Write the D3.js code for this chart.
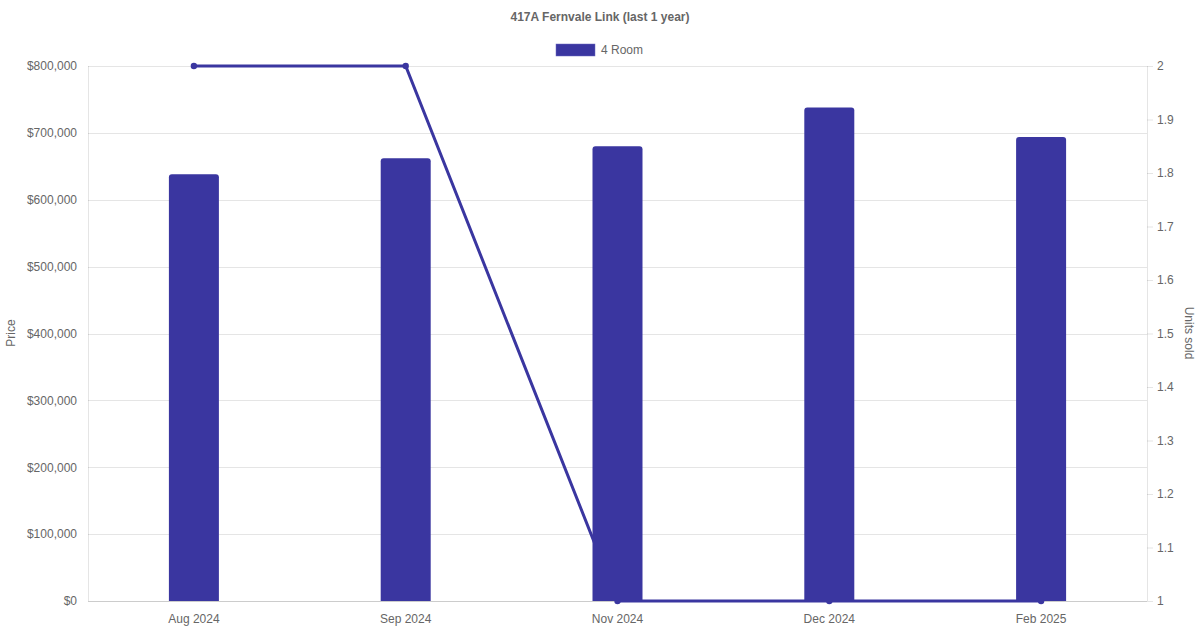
<!DOCTYPE html>
<html>
<head>
<meta charset="utf-8">
<script src="https://cdn.jsdelivr.net/npm/d3@7"></script>
<style>
  html, body { margin: 0; padding: 0; background: #fff; }
  svg { display: block; font-family: "Liberation Sans", Arial, Helvetica, sans-serif; }
</style>
</head>
<body>
<svg id="chart" width="1200" height="630"></svg>
<script>
const categories = ["Aug 2024", "Sep 2024", "Nov 2024", "Dec 2024", "Feb 2025"];
const priceValues = [638000, 662000, 680000, 738000, 694000];
const unitsSold = [2, 2, 1, 1, 1];
const priceTicks = [0, 100000, 200000, 300000, 400000, 500000, 600000, 700000, 800000];
const unitTicks = [1, 1.1, 1.2, 1.3, 1.4, 1.5, 1.6, 1.7, 1.8, 1.9, 2];
const titleText = "417A Fernvale Link (last 1 year)";
const seriesName = "4 Room";

(function () {
const color = "#3a36a0";
const textColor = "#666";
const gridColor = "rgba(0,0,0,0.1)";

const svg = d3.select("#chart");
const pLeft = 88, pRight = 1147, pTop = 66, pBottom = 601;

const x = d3.scaleBand().domain(categories).range([pLeft, pRight]).padding(0);
const yL = d3.scaleLinear().domain([0, 800000]).range([pBottom, pTop]);
const yR = d3.scaleLinear().domain([1, 2]).range([pBottom, pTop]);

// Title
svg.append("text").attr("x", 600).attr("y", 21).attr("text-anchor", "middle")
  .attr("font-size", 12).attr("font-weight", "bold").attr("fill", textColor).text(titleText);

// Legend
svg.append("rect").attr("x", 556).attr("y", 44).attr("width", 39).attr("height", 12)
  .attr("fill", color).attr("stroke", "#6b68c0").attr("stroke-width", 0.5);
svg.append("text").attr("x", 601).attr("y", 54).attr("font-size", 12).attr("fill", textColor).text(seriesName);

// Gridlines (left axis)
svg.append("g").selectAll("line").data(priceTicks).join("line")
  .attr("x1", pLeft).attr("x2", pRight)
  .attr("y1", d => Math.round(yL(d)) + 0.5).attr("y2", d => Math.round(yL(d)) + 0.5)
  .attr("stroke", d => d === 0 ? "rgba(0,0,0,0.2)" : gridColor).attr("stroke-width", 1);

// Axis lines (vertical)
svg.append("line").attr("x1", pLeft + 0.5).attr("x2", pLeft + 0.5).attr("y1", pTop).attr("y2", pBottom)
  .attr("stroke", gridColor);
svg.append("line").attr("x1", pRight + 0.5).attr("x2", pRight + 0.5).attr("y1", pTop).attr("y2", pBottom)
  .attr("stroke", gridColor);

// Left axis
const leftAxis = d3.axisLeft(yL).tickValues(priceTicks).tickSize(0).tickPadding(11)
  .tickFormat(d => "$" + d3.format(",")(d));
const gL = svg.append("g").attr("transform", `translate(${pLeft},0)`).call(leftAxis);
gL.select(".domain").remove();
gL.selectAll("text").attr("font-size", 12).attr("fill", textColor).attr("font-family", "Liberation Sans, Arial, sans-serif");

// Right axis
const rightAxis = d3.axisRight(yR).tickValues(unitTicks).tickSize(6).tickPadding(4)
  .tickFormat(d => d3.format("")(+d.toFixed(1)));
const gR = svg.append("g").attr("transform", `translate(${pRight},0)`).call(rightAxis);
gR.select(".domain").remove();
gR.selectAll("line").attr("stroke", gridColor);
gR.selectAll("text").attr("font-size", 12).attr("fill", textColor).attr("font-family", "Liberation Sans, Arial, sans-serif");

// Bottom axis
const bottomAxis = d3.axisBottom(x).tickSize(0).tickPadding(13);
const gB = svg.append("g").attr("transform", `translate(0,${pBottom})`).call(bottomAxis);
gB.select(".domain").remove();
gB.selectAll("text").attr("font-size", 12).attr("fill", textColor).attr("font-family", "Liberation Sans, Arial, sans-serif");

// Axis titles
svg.append("text").attr("transform", `translate(15,333) rotate(-90)`).attr("text-anchor", "middle")
  .attr("font-size", 12).attr("fill", textColor).text("Price");
svg.append("text").attr("transform", `translate(1185,333) rotate(90)`).attr("text-anchor", "middle")
  .attr("font-size", 12).attr("fill", textColor).text("Units sold");

// Line (drawn under bars)
const cx = d => x(d) + x.bandwidth() / 2;
const line = d3.line().x((d, i) => cx(categories[i])).y(d => yR(d));
svg.append("path").datum(unitsSold).attr("d", line).attr("fill", "none")
  .attr("stroke", color).attr("stroke-width", 3);
svg.append("g").selectAll("circle").data(unitsSold).join("circle")
  .attr("cx", (d, i) => cx(categories[i])).attr("cy", d => yR(d)).attr("r", 3.2).attr("fill", color);

// Bars with rounded top
const barW = 50, r = 3;
svg.append("g").selectAll("path").data(priceValues).join("path")
  .attr("d", (d, i) => {
    const x0 = cx(categories[i]) - barW / 2, x1 = x0 + barW;
    const y0 = yL(d), y1 = yL(0);
    return `M${x0},${y1} L${x0},${y0 + r} Q${x0},${y0} ${x0 + r},${y0} L${x1 - r},${y0} Q${x1},${y0} ${x1},${y0 + r} L${x1},${y1} Z`;
  })
  .attr("fill", color);
})();
</script>
</body>
</html>
